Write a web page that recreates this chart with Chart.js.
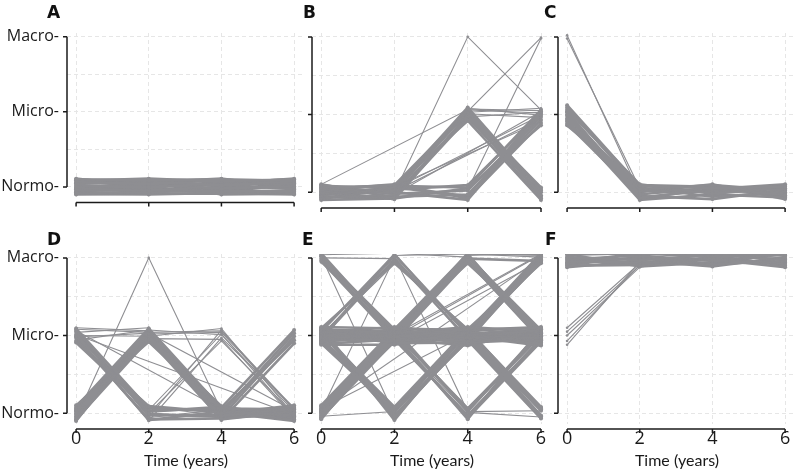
<!DOCTYPE html>
<html>
<head>
<meta charset="utf-8">
<script src="https://cdn.jsdelivr.net/npm/chart.js@4.4.1/dist/chart.umd.min.js"></script>
<style>
  html, body { margin: 0; padding: 0; background: #fff; }
  #wrap { position: relative; width: 800px; height: 473px; overflow: hidden; }
  #wrap canvas { position: absolute; }
</style>
</head>
<body>
<div id="wrap"></div>
<script>
// time points and stage names (0 = Normo, 1 = Micro, 2 = Macro)
const timePoints = [0, 2, 4, 6];
const stageNames = ['Normo-', 'Micro-', 'Macro-'];
const panelLetters = ['A', 'B', 'C', 'D', 'E', 'F'];

// each row = one patient, values at 0, 2, 4, 6 years (null = missed visit)
// "Common" = patients in the dense bundles, "Rare" = the few single tracks
const panelACommon = [
  [0.10, 0.09, 0.10, 0.08], [0.08, 0.11, 0.07, 0.10], [0.06, 0.04, 0.09, 0.05],
  [0.04, 0.07, 0.02, 0.07], [0.02, -0.01, 0.05, 0.03], [0.00, 0.03, -0.02, 0.01],
  [-0.02, 0.01, 0.03, -0.03], [-0.04, -0.05, 0.00, -0.01], [-0.06, -0.02, -0.06, -0.05],
  [-0.08, -0.07, -0.04, -0.08], [-0.10, -0.09, -0.09, -0.06], [-0.09, -0.10, -0.08, -0.10],
  [0.05, 0.10, 0.06, 0.10], [-0.01, -0.04, -0.07, 0.04], [0.09, 0.06, 0.11, -0.02],
  [-0.07, 0.06, -0.10, -0.09], [0.11, 0.00, 0.04, 0.11], [-0.03, 0.08, -0.05, 0.06]
];
const panelARare = [];

const panelBCommon = [
  [0.08, 0.05, 1.09, 0.02], [0.04, 0.09, 1.05, -0.04], [-0.02, 0.02, 1.02, 0.06],
  [-0.06, -0.04, 0.98, -0.08], [0.10, -0.07, 0.95, 0.00], [-0.09, 0.07, 0.92, -0.10],
  [0.01, -0.09, 0.99, 0.04], [0.06, 0.00, 1.07, -0.06],
  [0.06, 0.08, 0.06, 1.06], [-0.03, 0.03, 0.09, 1.02], [0.09, -0.02, 0.02, 0.97],
  [-0.07, -0.06, -0.03, 0.93], [0.03, 0.10, -0.08, 0.89], [-0.10, -0.08, 0.05, 0.86],
  [0.00, 0.00, -0.10, 1.00], [-0.04, 0.06, -0.05, 1.04]
];
const panelBRare = [
  [0.07, -0.03, 1.07, 1.05], [-0.05, 0.06, 1.03, 1.08], [0.02, -0.10, 1.01, 0.96],
  [-0.08, 0.04, 1.08, 0.99], [0.05, -0.05, 0.97, 1.03],
  [0.03, -0.01, 2.00, 1.06], [-0.04, 0.05, 1.04, 1.99], [0.06, -0.06, 0.03, 1.98],
  [0.10, null, 1.06, 1.02],
  [0.02, 0.04, null, 0.99], [-0.06, 0.01, null, 0.95], [0.05, -0.03, null, 1.04],
  [-0.02, 0.07, null, 0.91]
];

const panelCCommon = [
  [1.12, 0.08, 0.05, 0.07], [1.09, 0.04, 0.09, 0.02], [1.06, 0.10, -0.02, 0.05],
  [1.03, -0.03, 0.06, -0.04], [1.00, 0.02, 0.00, 0.08], [0.98, -0.07, 0.03, -0.02],
  [0.95, 0.06, -0.06, 0.00], [0.93, -0.10, -0.03, -0.07], [0.91, 0.00, 0.10, -0.09],
  [0.88, -0.05, -0.09, 0.03], [0.86, 0.09, 0.07, -0.06], [1.04, -0.08, 0.04, 0.10]
];
const panelCRare = [
  [2.02, -0.02, 0.02, 0.01], [1.98, 0.05, -0.05, -0.03]
];

const panelDCommon = [
  [0.08, 1.09, 0.06, 0.05], [0.04, 1.05, 0.02, -0.03], [0.00, 1.02, -0.04, 0.08],
  [-0.04, 0.98, 0.09, -0.06], [-0.08, 0.95, -0.08, 0.02], [0.10, 0.92, 0.04, -0.09],
  [-0.10, 1.07, -0.01, 0.10], [0.02, 1.00, -0.06, -0.01],
  [0.06, 1.04, 0.07, 1.07], [-0.02, 0.97, 0.00, 1.03], [-0.06, 1.08, -0.05, 0.99],
  [0.03, 0.94, 0.03, 0.94], [-0.09, 1.01, -0.09, 0.90],
  [1.09, 0.06, 0.03, -0.04], [1.05, -0.03, -0.02, 0.06], [1.01, 0.02, 0.08, -0.08],
  [0.97, -0.08, -0.07, 0.01], [0.93, 0.09, 0.01, -0.10], [1.07, -0.01, -0.05, 0.04],
  [0.91, 0.03, 0.06, -0.05], [0.99, -0.09, 0.02, 0.07]
];
const panelDRare = [
  [1.07, -0.05, 1.07, 0.04], [1.03, 0.04, 1.02, -0.05], [0.99, -0.10, 0.97, 0.07],
  [0.95, 0.00, 0.93, -0.02],
  [1.02, 0.08, -0.03, 1.05], [0.96, -0.06, 0.05, 0.96],
  [1.10, 1.06, 0.05, 0.03], [1.04, 1.10, -0.03, -0.07], [0.98, 1.03, 0.00, 0.09],
  [1.08, 1.04, 1.06, 0.06], [1.00, 0.99, 1.09, -0.03], [0.94, 1.07, 1.01, 0.02],
  [0.07, 0.96, 0.95, -0.06], [-0.05, 1.02, 1.04, 0.05],
  [-0.07, 2.00, 0.03, -0.04],
  [1.06, null, 0.05, 0.00], [1.01, null, null, -0.02], [0.05, 1.03, null, 0.03]
];

const panelECommon = [
  [1.11, 1.09, 1.07, 1.10], [1.07, 1.03, 1.11, 1.05], [1.04, 1.11, 1.02, 1.01],
  [1.01, 0.98, 1.07, 1.11], [0.98, 1.05, 0.96, 0.97], [0.95, 0.93, 1.00, 0.93],
  [0.92, 1.00, 0.93, 1.03], [0.89, 0.95, 1.04, 0.89], [1.08, 0.90, 0.91, 0.95],
  [1.02, 1.07, 0.98, 1.07], [0.96, 1.01, 1.09, 0.99], [0.93, 0.97, 0.95, 1.01],
  [1.05, 0.94, 1.03, 0.92], [0.99, 1.02, 0.89, 1.04], [0.88, 0.88, 0.99, 0.87],
  [1.09, 0.96, 0.87, 1.08], [0.91, 1.04, 1.05, 0.91], [1.00, 0.91, 1.00, 0.98],
  [0.94, 1.08, 0.92, 1.06], [1.06, 0.99, 1.06, 0.88],
  [0.05, 1.04, 2.03, 1.02], [-0.03, 0.97, 1.97, 0.95], [-0.08, 1.07, 1.93, 1.06],
  [0.03, 1.02, 2.01, 1.00], [-0.06, 0.93, 1.95, 1.04], [0.10, 1.08, 2.05, 0.97],
  [0.08, 1.01, 2.06, 2.04], [0.01, 0.94, 1.99, 1.96],
  [0.09, 0.99, 1.05, 0.98], [-0.05, 1.06, 0.97, 1.02], [0.02, 0.92, 1.01, 1.08],
  [0.06, 1.03, 0.06, 1.00], [-0.06, 0.96, -0.04, 0.94], [0.00, 1.09, 0.02, 1.06],
  [-0.02, 1.00, 1.08, 0.05], [0.04, 0.95, 0.94, -0.07],
  [1.06, 0.04, 1.03, 2.02], [0.97, -0.04, 0.95, 1.97], [1.02, 0.08, 1.08, 1.93],
  [0.96, 0.07, 1.04, 2.06], [1.04, -0.05, 0.98, 1.95], [0.90, 0.02, 0.93, 2.00],
  [1.10, -0.09, 1.06, 1.98],
  [1.09, -0.07, 0.99, -0.03], [0.94, 0.01, 1.06, 0.06],
  [1.05, 2.04, 1.02, 0.03], [0.96, 1.98, 0.96, -0.06], [1.09, 1.94, 1.07, 0.08],
  [2.03, 1.05, 0.05, 1.03], [1.96, 0.95, -0.03, 0.96], [2.06, 1.01, -0.08, 1.09],
  [1.99, 0.98, 2.04, 0.99], [2.02, 1.08, 1.95, 1.05],
  [1.04, 1.06, 0.04, 1.01], [0.95, 0.99, -0.06, 0.92],
  [1.00, 0.96, 2.02, 1.07], [1.08, 1.04, 1.96, 0.94],
  [0.97, 1.02, 0.98, 0.04], [1.03, 0.92, 1.03, -0.04], [0.92, 1.09, 0.94, 0.07],
  [1.06, 0.97, 1.06, 2.03], [0.94, 1.05, 0.99, 1.95], [1.01, 1.00, 1.02, 1.99]
];
const panelERare = [
  [1.03, -0.02, 0.92, 1.03], [0.91, 0.06, 1.00, 0.97],
  [0.99, 2.01, 0.93, 2.05], [1.07, 1.96, 1.04, 1.99],
  [0.93, 2.06, 1.00, 0.96], [1.01, 1.92, 1.09, 1.04],
  [1.94, 1.03, 0.97, 1.00], [2.05, 0.93, 1.05, 0.93], [1.97, 1.00, 0.01, -0.05],
  [2.04, 2.06, 2.01, 1.03], [2.00, 1.99, 1.04, 0.98], [0.98, 2.03, 2.05, 2.01],
  [2.01, 1.02, 2.03, 2.06], [0.03, 2.00, 1.00, 1.02], [2.02, -0.02, 0.96, 1.00],
  [1.05, 2.02, 0.02, 0.03],
  [1.02, 0.98, null, 2.04], [0.05, null, null, 2.00], [-0.04, 0.02, null, 2.03],
  [1.07, 1.01, null, 2.05], [0.96, 0.94, null, 1.96], [0.06, null, 1.02, 0.99]
];

const panelFCommon = [
  [2.06, 2.05, 2.06, 2.03], [2.04, 2.06, 2.01, 2.06], [2.01, 1.97, 2.04, 1.98],
  [1.98, 2.03, 1.96, 2.05], [1.96, 1.94, 2.00, 1.92], [1.93, 2.00, 1.92, 1.96],
  [1.90, 1.91, 1.98, 1.88], [1.88, 1.96, 1.89, 2.01], [2.05, 1.89, 1.94, 1.94],
  [1.94, 2.06, 2.03, 1.90], [2.00, 1.92, 2.06, 2.06], [1.91, 2.01, 1.91, 1.99]
];
const panelFRare = [
  [1.10, 1.93, 1.98, 2.00], [1.05, 1.90, 1.95, 1.96], [1.00, 1.88, 2.02, 1.92],
  [0.93, 1.91, 1.93, 2.04], [0.88, 1.95, 2.00, 1.90]
];

const panelCommon = [panelACommon, panelBCommon, panelCCommon, panelDCommon, panelECommon, panelFCommon];
const panelRare = [panelARare, panelBRare, panelCRare, panelDRare, panelERare, panelFRare];

// canvas boxes: left, top, width, height, y-axis width, x-axis height, pad top, pad right
const boxes = [
  [0,   0,   310, 215, 67,  12, 33, 5],
  [300, 0,   260, 215, 12,  12, 33, 8],
  [540, 0,   260, 215, 18,  12, 33, 2],
  [0,   215, 310, 258, 67,  49, 39, 5],
  [300, 215, 260, 258, 12,  49, 39, 8],
  [540, 215, 260, 258, 18,  49, 39, 2]
];
// panel letter positions (canvas-relative)
const letterPos = [[47, 18], [3, 18], [4, 18], [47, 30], [2, 30], [5, 30]];

const lineColor = '#8e8e92';

const cappedAxes = {
  id: 'cappedAxes',
  afterDraw(chart, args, opts) {
    const { ctx, chartArea, scales: { x, y } } = chart;
    ctx.save();
    ctx.strokeStyle = '#1b1b1b';
    ctx.lineWidth = 1.5;
    ctx.beginPath();
    const ax = chartArea.left;
    ctx.moveTo(ax, y.getPixelForValue(2));
    ctx.lineTo(ax, y.getPixelForValue(0));
    [0, 1, 2].forEach(v => {
      const py = y.getPixelForValue(v);
      ctx.moveTo(ax - 4, py);
      ctx.lineTo(ax, py);
    });
    const ay = chartArea.bottom + 5;
    ctx.moveTo(x.getPixelForValue(0), ay);
    ctx.lineTo(x.getPixelForValue(6), ay);
    timePoints.forEach(t => {
      const px = x.getPixelForValue(t);
      ctx.moveTo(px, ay);
      ctx.lineTo(px, ay + 4);
    });
    ctx.stroke();
    ctx.fillStyle = '#111';
    ctx.font = 'bold 17px "DejaVu Sans", sans-serif';
    ctx.textAlign = 'left';
    ctx.textBaseline = 'alphabetic';
    ctx.fillText(opts.letter, opts.lx, opts.ly);
    ctx.restore();
  }
};

function track(row, width, radius) {
  return {
    data: row.map((v, i) => ({ x: timePoints[i], y: v })),
    borderColor: lineColor,
    backgroundColor: lineColor,
    borderWidth: width,
    pointRadius: radius,
    pointBorderWidth: 0,
    pointBackgroundColor: lineColor,
    spanGaps: true,
    tension: 0
  };
}

const wrap = document.getElementById('wrap');

panelCommon.forEach((rows, p) => {
  const [left, top, w, h, yW, xH, padTop, padRight] = boxes[p];
  const canvas = document.createElement('canvas');
  canvas.width = w;
  canvas.height = h;
  canvas.style.left = left + 'px';
  canvas.style.top = top + 'px';
  wrap.appendChild(canvas);

  const firstCol = p % 3 === 0;
  const bottomRow = p >= 3;

  const datasets = panelRare[p].map(r => track(r, 1.1, 1.3))
    .concat(rows.map(r => track(r, 2.6, 2)));

  new Chart(canvas, {
    type: 'line',
    data: { datasets },
    options: {
      responsive: false,
      animation: false,
      devicePixelRatio: 1,
      layout: { padding: { top: padTop, right: padRight, left: 0, bottom: 0 } },
      plugins: {
        legend: { display: false },
        tooltip: { enabled: false },
        cappedAxes: { letter: panelLetters[p], lx: letterPos[p][0], ly: letterPos[p][1] }
      },
      scales: {
        x: {
          type: 'linear',
          min: -0.25,
          max: 6.3,
          afterFit: s => { s.height = xH; },
          grid: { color: '#e6e6e6', drawTicks: false },
          border: { display: false, dash: [4, 3] },
          ticks: {
            display: bottomRow,
            stepSize: 2,
            includeBounds: false,
            padding: 4,
            color: '#1a1a1a',
            font: { family: '"Open Sans"', size: 18 },
            maxRotation: 0,
            autoSkip: false
          },
          title: {
            display: bottomRow,
            text: 'Time (years)',
            color: '#1a1a1a',
            font: { family: 'Lato', size: 16 },
            padding: { top: 0, bottom: 3 }
          }
        },
        y: {
          min: -0.14,
          max: 2.05,
          afterFit: s => { s.width = yW; },
          grid: { color: '#e6e6e6', drawTicks: false },
          border: { display: false, dash: [4, 3] },
          ticks: {
            display: firstCol,
            stepSize: 0.5,
            includeBounds: false,
            padding: 8,
            color: '#1a1a1a',
            font: { family: '"Open Sans"', size: 16 },
            autoSkip: false,
            callback: v => Number.isInteger(v) ? stageNames[v] : ''
          }
        }
      }
    },
    plugins: [cappedAxes]
  });
});
</script>
</body>
</html>
